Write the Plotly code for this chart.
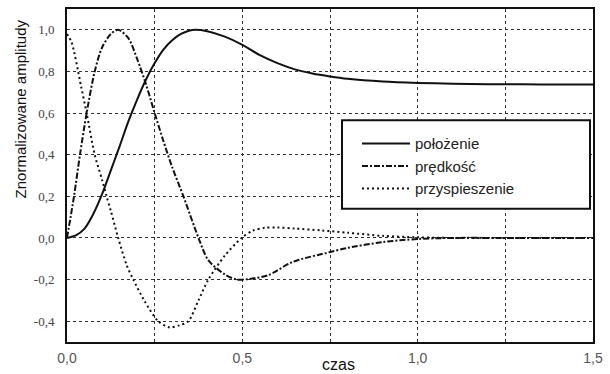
import plotly.graph_objects as go

# --- data ---
t_pos = [0, 0.025, 0.05, 0.075, 0.1, 0.125, 0.15, 0.175, 0.2, 0.225, 0.25, 0.275, 0.3, 0.325,
         0.35, 0.365, 0.4, 0.45, 0.5, 0.55, 0.6, 0.65, 0.7, 0.75, 0.8, 0.9, 1.0, 1.1, 1.2, 1.3, 1.4, 1.5]
polozenie = [0, 0.012, 0.045, 0.115, 0.21, 0.325, 0.44, 0.56, 0.665, 0.76, 0.84, 0.905, 0.95, 0.98,
             0.997, 1.0, 0.993, 0.967, 0.928, 0.878, 0.84, 0.81, 0.79, 0.776, 0.765, 0.752, 0.745,
             0.741, 0.739, 0.738, 0.737, 0.737]

t_vel = [0, 0.02, 0.037, 0.056, 0.079, 0.1, 0.125, 0.146, 0.175, 0.2, 0.225, 0.25, 0.275, 0.3,
         0.332, 0.375, 0.403, 0.45, 0.484, 0.52, 0.574, 0.644, 0.75, 0.8, 0.9, 1.0, 1.1, 1.25, 1.5]
predkosc = [0, 0.2, 0.4, 0.6, 0.8, 0.915, 0.98, 1.0, 0.96, 0.86, 0.74, 0.6, 0.465, 0.34,
            0.2, 0.0, -0.107, -0.175, -0.2, -0.197, -0.179, -0.115, -0.068, -0.048, -0.02, -0.005,
            0.0, 0.0, 0.0]

t_acc = [0, 0.013, 0.04, 0.056, 0.079, 0.1, 0.113, 0.125, 0.146, 0.17, 0.189, 0.22, 0.26, 0.293,
         0.32, 0.346, 0.375, 0.403, 0.45, 0.498, 0.53, 0.565, 0.6, 0.65, 0.727, 0.8, 0.9, 1.0,
         1.1, 1.25, 1.5]
przyspieszenie = [0.98, 0.94, 0.73, 0.6, 0.4, 0.28, 0.2, 0.13, 0.0, -0.13, -0.2, -0.3, -0.4, -0.43,
                  -0.42, -0.4, -0.3, -0.2, -0.085, 0.0, 0.035, 0.049, 0.05, 0.045, 0.036, 0.025,
                  0.01, 0.003, 0.0, 0.0, 0.0]

series_names = ["położenie", "prędkość", "przyspieszenie"]

x_tick_vals = [0, 0.5, 1.0, 1.5]
x_tick_text = ["0,0", "0,5", "1,0", "1,5"]
x_minor_vals = [0.25, 0.75, 1.25]
y_tick_vals = [-0.4, -0.2, 0.0, 0.2, 0.4, 0.6, 0.8, 1.0]
y_tick_text = ["-0,4", "-0,2", "0,0", "0,2", "0,4", "0,6", "0,8", "1,0"]

W, H = 610, 374
ML, MR, MT, MB = 67, 17, 7, 32
PW, PH = W - ML - MR, H - MT - MB


def px_x(p):
    return (p - ML) / PW


def px_y(p):
    return (H - MB - p) / PH


fig = go.Figure()
fig.add_trace(go.Scatter(x=t_pos, y=polozenie, name=series_names[0], mode="lines",
                         line=dict(color="#111", width=2, shape="spline", smoothing=0.8)))
fig.add_trace(go.Scatter(x=t_vel, y=predkosc, name=series_names[1], mode="lines",
                         line=dict(color="#111", width=2, dash="6px,2px,2px,2px",
                                   shape="spline", smoothing=0.8)))
fig.add_trace(go.Scatter(x=t_acc, y=przyspieszenie, name=series_names[2], mode="lines",
                         line=dict(color="#111", width=2, dash="2px,3px",
                                   shape="spline", smoothing=0.8)))

grid_col = "#333"
fig.update_xaxes(range=[0, 1.5], tickvals=x_tick_vals, ticktext=x_tick_text,
                 showgrid=True, gridcolor=grid_col, griddash="dot", gridwidth=1,
                 minor=dict(tickvals=x_minor_vals, showgrid=True, gridcolor=grid_col,
                            griddash="dot", gridwidth=1),
                 zeroline=False, showline=True, mirror=True, linecolor="#111", linewidth=2,
                 tickfont=dict(family="Liberation Sans, Arial", size=14, color="#555"),
                 ticks="", ticklabelstandoff=2)
fig.update_yaxes(range=[-0.5, 1.1], tickvals=y_tick_vals, ticktext=y_tick_text,
                 showgrid=True, gridcolor=grid_col, griddash="dot", gridwidth=1,
                 zeroline=False, showline=True, mirror=True, linecolor="#111", linewidth=2,
                 tickfont=dict(family="Liberation Serif, Times New Roman", size=13, color="#444"),
                 ticks="", ticklabelstandoff=8)

# legend frame
fig.add_shape(type="rect", xref="paper", yref="paper",
              x0=px_x(342), x1=px_x(590), y0=px_y(208), y1=px_y(119),
              line=dict(color="#111", width=2), fillcolor="white", layer="above")

fig.add_annotation(text="Znormalizowane amplitudy", xref="paper", yref="paper",
                   x=px_x(20), y=px_y(108), textangle=-90, showarrow=False,
                   xanchor="center", yanchor="middle",
                   font=dict(family="Liberation Sans, Arial", size=15, color="#111"))
fig.add_annotation(text="czas", xref="paper", yref="paper",
                   x=px_x(338), y=px_y(365), showarrow=False,
                   xanchor="center", yanchor="middle",
                   font=dict(family="Liberation Sans, Arial", size=16, color="#111"))

fig.update_layout(
    width=W, height=H,
    margin=dict(l=ML, r=MR, t=MT, b=MB),
    paper_bgcolor="white", plot_bgcolor="white",
    showlegend=True,
    legend=dict(x=px_x(357), y=px_y(126), xanchor="left", yanchor="top",
                bgcolor="rgba(0,0,0,0)", borderwidth=0, itemwidth=48,
                font=dict(family="Liberation Sans, Arial", size=15, color="#222"),
                tracegroupgap=0),
)

fig.write_html("out.html", config={"displayModeBar": False},
               post_script="document.body.style.margin='0px';document.body.style.padding='0px';")
